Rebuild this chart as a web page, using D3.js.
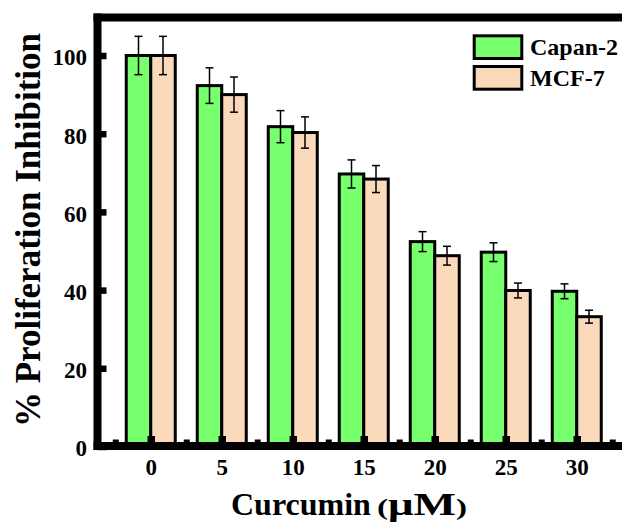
<!DOCTYPE html>
<html>
<head>
<meta charset="utf-8">
<script src="https://cdn.jsdelivr.net/npm/d3@7"></script>
<style>
  body { margin: 0; background: #fff; }
  svg { display: block; }
  text { font-family: "Liberation Serif", "Times New Roman", serif; font-weight: bold; fill: #000; }
</style>
</head>
<body>
<div id="chart"></div>
<script>
// curcumin concentration (uM)
var doses = [0, 5, 10, 15, 20, 25, 30];
var minorTicks = [-2.5, 2.5, 7.5, 12.5, 17.5, 22.5, 27.5, 32.5];
var yTicks = [0, 20, 40, 60, 80, 100];

// % proliferation inhibition
var capan2 = [100, 92.3, 81.8, 69.7, 52.4, 49.7, 39.7];
var capan2Err = [4.9, 4.55, 4.1, 3.6, 2.55, 2.4, 1.9];
var mcf7 = [100, 90.0, 80.3, 68.4, 48.8, 39.9, 33.2];
var mcf7Err = [4.9, 4.5, 4.0, 3.45, 2.4, 1.9, 1.65];

var seriesNames = ["Capan-2", "MCF-7"];
var colors = ["#77ff6e", "#fbd9bb"];

var W = 622, H = 522;

var svg = d3.select("#chart").append("svg")
  .attr("width", W)
  .attr("height", H);

var x = d3.scaleLinear().domain([-3.75, 33.75]).range([97.5, 630]);
var y = d3.scaleLinear().domain([0, 110]).range([446.5, 446.5 - 110 * 3.91]);

var barW = 24.5;

var series = [
  { name: seriesNames[0], vals: capan2, err: capan2Err, color: colors[0], off: -barW },
  { name: seriesNames[1], vals: mcf7, err: mcf7Err, color: colors[1], off: 0 }
];

// bars
series.forEach(function(s) {
  svg.append("g").selectAll("rect")
    .data(doses)
    .enter()
    .append("rect")
    .attr("x", function(d) { return x(d) + s.off; })
    .attr("y", function(d, i) { return y(s.vals[i]); })
    .attr("width", barW)
    .attr("height", function(d, i) { return y(0) - y(s.vals[i]); })
    .style("fill", s.color)
    .style("stroke", "#000")
    .style("stroke-width", 3);
});

// error bars
series.forEach(function(s) {
  var g = svg.append("g");
  doses.forEach(function(d, i) {
    var cx = x(d) + s.off + barW / 2;
    var hi = y(s.vals[i] + s.err[i]), lo = y(s.vals[i] - s.err[i]);
    g.append("line").attr("x1", cx).attr("x2", cx).attr("y1", hi).attr("y2", lo);
    g.append("line").attr("x1", cx - 4).attr("x2", cx + 4).attr("y1", hi).attr("y2", hi);
    g.append("line").attr("x1", cx - 4).attr("x2", cx + 4).attr("y1", lo).attr("y2", lo);
  });
  g.selectAll("line").style("stroke", "#000").style("stroke-width", 1.5);
});

// frame (left, top, bottom)
var frame = svg.append("g").style("stroke", "#000").style("stroke-width", 8);
frame.append("line").attr("x1", 97.5).attr("x2", 97.5).attr("y1", 13.5).attr("y2", 450);
frame.append("line").attr("x1", 93.5).attr("x2", W).attr("y1", 17.5).attr("y2", 17.5);
frame.append("line").attr("x1", 93.5).attr("x2", W).attr("y1", 446).attr("y2", 446);

// y axis
var yAxis = svg.append("g")
  .attr("transform", "translate(97.5,0)")
  .call(d3.axisLeft(y).tickValues(yTicks).tickSize(-9).tickPadding(10.5));
yAxis.select(".domain").remove();
yAxis.selectAll(".tick line").style("stroke", "#000").style("stroke-width", 6.5);
yAxis.selectAll(".tick text")
  .style("font-size", "23px")
  .style("font-family", "'Liberation Serif', 'Times New Roman', serif")
  .style("font-weight", "bold")
  .attr("dy", "0.41em");

// x axis minor ticks
var xMinor = svg.append("g")
  .attr("transform", "translate(0,446)")
  .call(d3.axisBottom(x).tickValues(minorTicks).tickSize(-6.5).tickFormat(""));
xMinor.select(".domain").remove();
xMinor.selectAll(".tick line").style("stroke", "#000").style("stroke-width", 6);

// x axis major ticks
var xAxis = svg.append("g")
  .attr("transform", "translate(0,446)")
  .call(d3.axisBottom(x).tickValues(doses).tickSize(-10).tickPadding(12.7));
xAxis.select(".domain").remove();
xAxis.selectAll(".tick line").style("stroke", "#000").style("stroke-width", 7.5);
xAxis.selectAll(".tick text")
  .style("font-size", "23px")
  .style("font-family", "'Liberation Serif', 'Times New Roman', serif")
  .style("font-weight", "bold");

// axis titles
svg.append("text")
  .attr("x", 231)
  .attr("y", 515)
  .style("font-size", "32px")
  .text("Curcumin");
var unit = svg.append("text")
  .attr("transform", "translate(377,515) scale(1.45,1)")
  .style("font-size", "31px");
unit.append("tspan").style("font-size", "23px").text("(");
unit.append("tspan").text("\u03bcM");
unit.append("tspan").style("font-size", "23px").text(")");

svg.append("text")
  .attr("transform", "translate(40,230) rotate(-90)")
  .attr("text-anchor", "middle")
  .style("font-size", "35px")
  .text("% Proliferation Inhibition");

// legend
var legend = svg.append("g").attr("transform", "translate(474.2,35.8)");
series.forEach(function(s, i) {
  legend.append("rect")
    .attr("x", 0)
    .attr("y", i * 30.7)
    .attr("width", 47.6)
    .attr("height", 22.7)
    .style("fill", s.color)
    .style("stroke", "#000")
    .style("stroke-width", 3);
  legend.append("text")
    .attr("x", 55.8)
    .attr("y", i * 30.7 + 19.2)
    .style("font-size", "24px")
    .text(s.name);
});
</script>
</body>
</html>
